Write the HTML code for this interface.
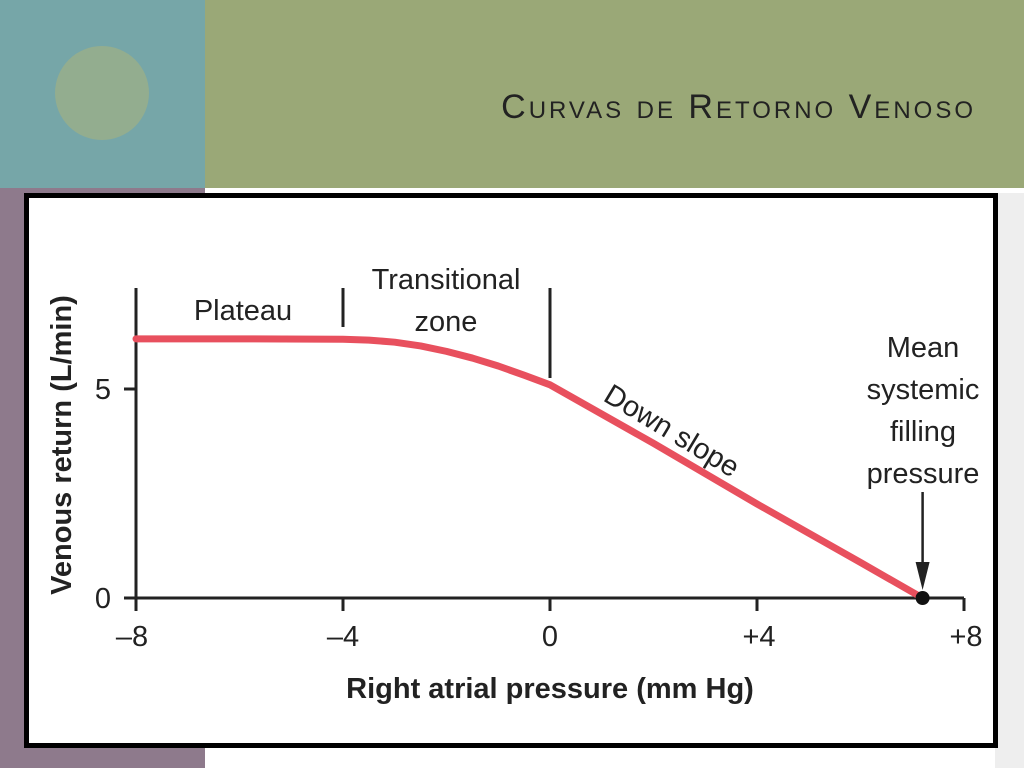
<!DOCTYPE html>
<html><head><meta charset="utf-8">
<style>
body{margin:0;width:1024px;height:768px;position:relative;overflow:hidden;background:#fff;font-family:"Liberation Sans",sans-serif}
.abs{position:absolute}
</style></head><body>
<div class="abs" style="left:0;top:0;width:205px;height:188px;background:#76a6a8"></div>
<div class="abs" style="left:0;top:188px;width:205px;height:580px;background:#8e7a8c"></div>
<div class="abs" style="left:205px;top:0;width:819px;height:188px;background:#9aa877"></div>
<div class="abs" style="left:55px;top:46px;width:94px;height:94px;border-radius:50%;background:#93ad8f"></div>
<div class="abs" style="right:48px;top:88px;font-size:34px;font-variant:small-caps;letter-spacing:3px;color:#222">Curvas de Retorno Venoso</div>
<div class="abs" style="left:995px;top:193px;width:29px;height:575px;background:#eeeeee"></div>
<div class="abs" style="left:24px;top:193px;width:964px;height:545px;border:5px solid #000;background:#fff"></div>
<svg class="abs" style="left:0;top:0" width="1024" height="768" font-family="Liberation Sans, sans-serif">
<g id="g"></g>
</svg>
<script>
const xTicks=[-8,-4,0,4,8];
const xTickLabels=["–8","–4","0","+4","+8"];
const yTicks=[0,5];
const yTickLabels=["0","5"];
const curveX=[-8,-6,-4,-3.5,-3,-2.5,-2,-1.5,-1,-0.5,0,2,4,6,7.2];
const curveY=[6.2,6.2,6.19,6.17,6.12,6.03,5.9,5.74,5.55,5.33,5.1,3.7,2.25,0.85,0];
const zoneMarks=[-4,0];
const mcfp=7.2;
const sx=v=>136+(v+8)*(964-136)/16;
const sy=v=>598-v*(598-389)/5;
const g=document.getElementById('g');
const NS='http://www.w3.org/2000/svg';
function mk(t,a,txt){const e=document.createElementNS(NS,t);for(const k in a)e.setAttribute(k,a[k]);if(txt!==undefined)e.textContent=txt;g.appendChild(e);return e;}
let e;
e=mk('line',{x1:136,y1:598,x2:sx(8),y2:598,stroke:'#222','stroke-width':3});


e=mk('line',{x1:136,y1:288,x2:136,y2:598,stroke:'#222','stroke-width':3});


xTicks.forEach((v,i)=>{
 e=mk('line',{x1:sx(v),y1:598,x2:sx(v),y2:611,stroke:'#222','stroke-width':3});
 
 
 e=mk('text',{x:sx(v)+(i==0?-4:(i>2?2:0)),y:646,'text-anchor':'middle','font-size':29,fill:'#222'},xTickLabels[i]);
 
 
});
yTicks.forEach((v,i)=>{
 e=mk('line',{x1:124,y1:sy(v),x2:136,y2:sy(v),stroke:'#222','stroke-width':3});
 
 
 e=mk('text',{x:103,y:sy(v)+10,'text-anchor':'middle','font-size':29,fill:'#222'},yTickLabels[i]);
 
 
});
zoneMarks.forEach(v=>{
 e=mk('line',{x1:sx(v),y1:v==0?288:288,x2:sx(v),y2:v==0?378:327,stroke:'#222','stroke-width':3});
 
 
});
e=mk('polyline',{points:curveX.map((x,i)=>sx(x)+','+sy(curveY[i])).join(' '),fill:'none',stroke:'#e8505e','stroke-width':7,'stroke-linejoin':'round','stroke-linecap':'round'});


e=mk('circle',{cx:sx(mcfp),cy:598,r:7,fill:'#111'});


e=mk('line',{x1:sx(mcfp),y1:492,x2:sx(mcfp),y2:575,stroke:'#222','stroke-width':2.5});


e=mk('polygon',{points:`${sx(mcfp)-7},562 ${sx(mcfp)+7},562 ${sx(mcfp)},590`,fill:'#222'});


const labels=[["Plateau",243,320,'middle'],["Transitional",446,289,'middle'],["zone",446,331,'middle'],["Mean",923,357,'middle'],["systemic",923,399,'middle'],["filling",923,441,'middle'],["pressure",923,483,'middle']];
labels.forEach(l=>{
 e=mk('text',{x:l[1],y:l[2],'text-anchor':l[3],'font-size':29,fill:'#222'},l[0]);
 
 
});
e=mk('text',{x:0,y:0,'font-size':29,fill:'#222',transform:'translate(602,400) rotate(31)'},"Down slope");


e=mk('text',{x:550,y:698,'text-anchor':'middle','font-size':29,'font-weight':'bold',fill:'#222'},"Right atrial pressure (mm Hg)");


e=mk('text',{x:0,y:0,'text-anchor':'middle','font-size':29,'font-weight':'bold',fill:'#222',transform:'translate(71,445) rotate(-90)'},"Venous return (L/min)");


</script>
</body></html>
